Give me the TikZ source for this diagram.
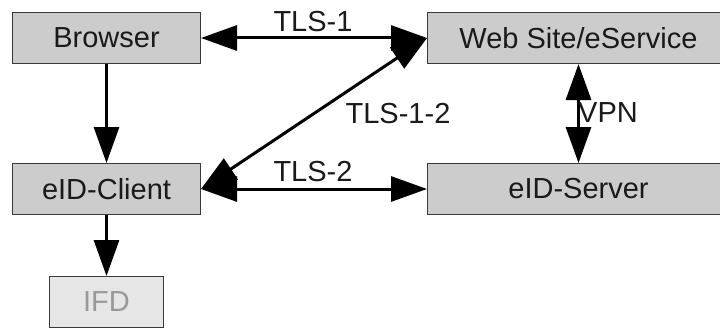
\documentclass[tikz,border=0pt]{standalone}
\usepackage{fontspec}
\setmainfont{Liberation Sans}
\usetikzlibrary{arrows.meta}
\definecolor{boxfill}{HTML}{CCCCCC}
\definecolor{boxline}{HTML}{3A3A3A}
\definecolor{txt}{HTML}{1A1A1A}
\definecolor{ifdfill}{HTML}{E6E6E6}
\definecolor{ifdtext}{HTML}{999999}
\begin{document}
\begin{tikzpicture}[x=1pt,y=-1pt,
  font=\fontsize{29}{32}\selectfont,
  comp/.style={draw=boxline, line width=1pt, fill=boxfill, text=txt, inner sep=0pt, anchor=north west},
  flow/.style={line width=3pt, -{Triangle[length=36pt,width=25pt]}},
  both/.style={line width=3pt, {Triangle[length=36pt,width=25pt]}-{Triangle[length=36pt,width=25pt]}},
  lbl/.style={text=txt, inner sep=0pt}]
  \useasboundingbox (0,0) rectangle (720,329);
  % components (the service-side boxes run past the right edge)
  \node[comp, minimum width=188pt, minimum height=51pt] (browser) at (12,12) {Browser};
  \node[comp, minimum width=302pt, minimum height=51pt] (web) at (427,12) {Web Site/eService};
  \node[comp, minimum width=188pt, minimum height=51pt] (client) at (12,163) {eID-Client};
  \node[comp, minimum width=302pt, minimum height=51pt] (server) at (427,163) {eID-Server};
  \node[comp, fill=ifdfill, text=ifdtext, minimum width=114pt, minimum height=51pt] (ifd) at (49,276) {IFD};
  % connections
  \draw[both] (browser.east) -- (web.west);
  \draw[both] (client.east) -- (server.west);
  \draw[both] (client.east) -- (web.west);
  \draw[both] (web.south) -- (server.north);
  \draw[flow] (browser.south) -- (client.north);
  \draw[flow] (client.south) -- (ifd.north -| client.south);
  % labels
  \node[lbl] (l1) at (313,22) {TLS-1};
  \node[lbl] (l12) at (398,114) {TLS-1-2};
  \node[lbl] (lvpn) at (608,113) {VPN};
  \node[lbl] (l2) at (313,172) {TLS-2};
\end{tikzpicture}
\end{document}
